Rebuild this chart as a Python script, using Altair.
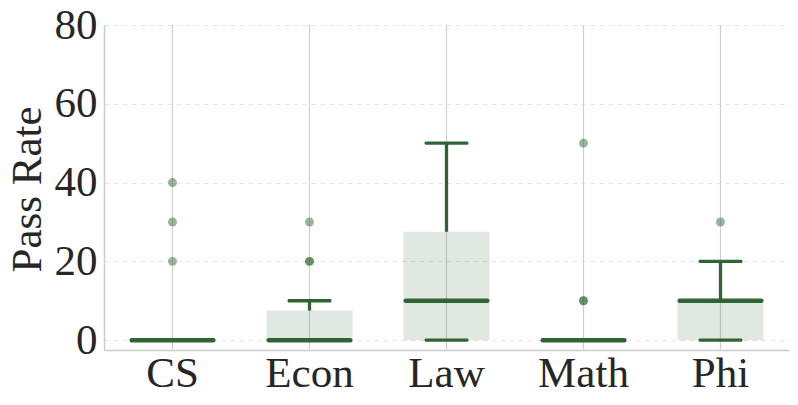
import altair as alt
import pandas as pd

categories = ["CS", "Econ", "Law", "Math", "Phi"]
q1 = [0, 0, 0, 0, 0]
median = [0, 0, 10, 0, 10]
q3 = [0, 7.5, 27.5, 0, 10]
whisker_lo = [0, 0, 0, 0, 0]
whisker_hi = [0, 10, 50, 0, 20]

outlier_cats = ["CS", "CS", "CS", "Econ", "Econ", "Econ", "Math", "Math", "Math", "Phi"]
outlier_vals = [20, 30, 40, 20, 20, 30, 10, 10, 50, 30]

y_ticks = [0, 20, 40, 60, 80]

dark = "#2f6534"
font = "Liberation Serif"

stats = pd.DataFrame({
    "cat": categories, "q1": q1, "median": median, "q3": q3,
    "lo": whisker_lo, "hi": whisker_hi,
})
outl = pd.DataFrame({"cat": outlier_cats, "val": outlier_vals})

x_enc = alt.X("cat:N", sort=categories,
              scale=alt.Scale(paddingInner=0, paddingOuter=0),
              axis=alt.Axis(title=None, labelAngle=0, ticks=False, grid=False,
                            domainColor="#cccccc", domainWidth=1.5,
                            labelFont=font, labelFontSize=43, labelColor="#262626",
                            labelPadding=2))
y_scale = alt.Scale(domain=[-2.5, 80], nice=False, zero=False)
y_axis = alt.Axis(title="Pass Rate", values=y_ticks, ticks=False,
                  domainColor="#cccccc", domainWidth=1.5,
                  grid=True, gridDash=[5, 4], gridColor="#e6e6e6", gridWidth=1,
                  labelFont=font, labelFontSize=43, labelColor="#262626", labelPadding=7,
                  titleFont=font, titleFontSize=43, titleFontWeight="normal",
                  titleColor="#262626", titleX=-77, titleY=164,
                  titleAlign="center", titleBaseline="middle")

base = alt.Chart(stats)

vgrid = base.mark_rule(color="#cfcfcf", strokeWidth=1.2).encode(x=x_enc)

box = base.mark_bar(size=86, color=dark, opacity=0.15).encode(
    x=x_enc,
    y=alt.Y("q1:Q", scale=y_scale, axis=y_axis),
    y2="q3:Q",
)

whisk_hi = base.mark_rule(color=dark, strokeWidth=3.3).encode(
    x=x_enc, y=alt.Y("q3:Q", scale=y_scale), y2="hi:Q")
whisk_lo = base.mark_rule(color=dark, strokeWidth=3.3).encode(
    x=x_enc, y=alt.Y("lo:Q", scale=y_scale), y2="q1:Q")

cap_hi = base.mark_tick(color=dark, size=44, thickness=3.3, orient="horizontal",
                        cornerRadius=1.5, opacity=1).encode(
    x=x_enc, y=alt.Y("hi:Q", scale=y_scale))
cap_lo = base.mark_tick(color=dark, size=44, thickness=3.3, orient="horizontal",
                        cornerRadius=1.5, opacity=1).encode(
    x=x_enc, y=alt.Y("lo:Q", scale=y_scale))

med = base.mark_tick(color=dark, size=86, thickness=4.5, orient="horizontal",
                     cornerRadius=2, opacity=1).encode(
    x=x_enc, y=alt.Y("median:Q", scale=y_scale))

pts = alt.Chart(outl).mark_circle(size=80, color="#336b38", opacity=0.5).encode(
    x=x_enc, y=alt.Y("val:Q", scale=y_scale))

chart = alt.layer(vgrid, box, whisk_hi, whisk_lo, cap_hi, cap_lo, med, pts).properties(
    width=685, height=325,
    autosize=alt.AutoSizeParams(type="none"),
    padding={"left": 96, "top": 17, "right": 1, "bottom": 50},
).configure_view(stroke=None).configure_axis(labelFontWeight="normal")

chart.save("out.html", embed_options={"renderer": "svg", "actions": False})
